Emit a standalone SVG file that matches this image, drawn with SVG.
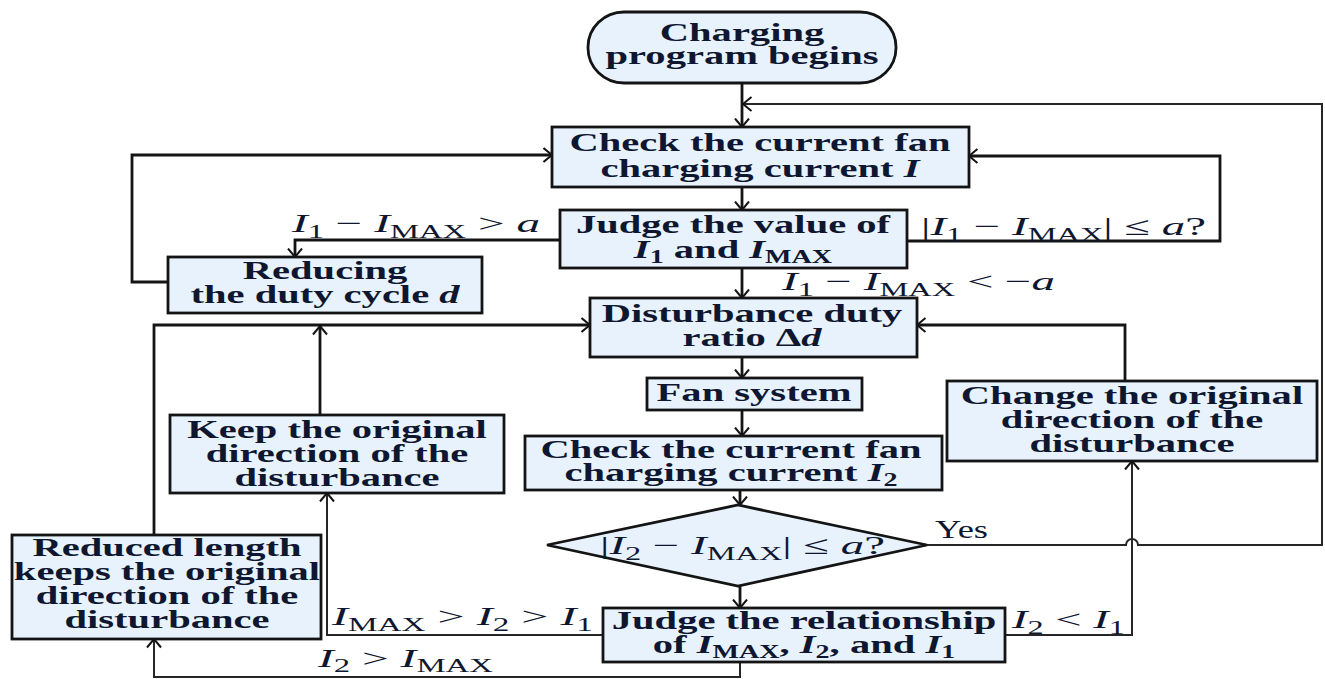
<svg xmlns="http://www.w3.org/2000/svg" width="1325" height="679" viewBox="0 0 1325 679">
<style>
.bg{fill:#ffffff}
.box{fill:#e7f2fc;stroke:#141414;stroke-width:2.8}
.ln{fill:none;stroke:#141414;stroke-width:2.8}
.thin{fill:none;stroke:#262626;stroke-width:2}
.t{font-family:"Liberation Serif","Times New Roman",serif;font-size:26px;font-weight:bold;fill:#0f1730;text-anchor:middle}
.m{font-family:"Liberation Serif","Times New Roman",serif;font-size:26px;font-weight:normal;fill:#0f1730}
.i{font-style:italic}
.s{font-size:18px}
</style>
<defs>
<marker id="ah" viewBox="0 0 10 16" refX="9.5" refY="8" markerWidth="10" markerHeight="16" markerUnits="userSpaceOnUse" orient="auto">
<path d="M1,1 L9.5,8 L1,15" fill="none" stroke="#141414" stroke-width="2"/>
</marker>
</defs>
<rect class="bg" x="0" y="0" width="1325" height="679"/>

<g id="connectors">
<path class="ln" d="M742,83 V127" marker-end="url(#ah)"/>
<path class="thin" d="M927,545 H1126 A6,6 0 0 1 1138,545 H1322 V104 H743" marker-end="url(#ah)"/>
<path class="ln" d="M742,187 V210" marker-end="url(#ah)"/>
<path class="ln" d="M560,240 H295 V257" marker-end="url(#ah)"/>
<path class="ln" d="M168,282 H132 V155 H552" marker-end="url(#ah)"/>
<path class="ln" d="M907,241 H1220 V156 H969" marker-end="url(#ah)"/>
<path class="ln" d="M742,268 V298" marker-end="url(#ah)"/>
<path class="ln" d="M742,357 V378" marker-end="url(#ah)"/>
<path class="ln" d="M742,410 V436" marker-end="url(#ah)"/>
<path class="ln" d="M740,490 V505" marker-end="url(#ah)"/>
<path class="ln" d="M740,586 V608" marker-end="url(#ah)"/>
<path class="thin" d="M603,635 H327 V493" marker-end="url(#ah)"/>
<path class="thin" d="M1005,635 H1132 V461" marker-end="url(#ah)"/>
<path class="thin" d="M740,662 V677 H154 V639" marker-end="url(#ah)"/>
<path class="ln" d="M154,535 V325 H590" marker-end="url(#ah)"/>
<path class="ln" d="M320,415 V326" marker-end="url(#ah)"/>
<path class="ln" d="M1125,381 V325 H917" marker-end="url(#ah)"/>
</g>

<g id="labels">
<text class="m" x="292" y="232" textLength="248" lengthAdjust="spacingAndGlyphs"><tspan class="i">I</tspan><tspan class="s" dy="6">1</tspan><tspan dy="-6"> − </tspan><tspan class="i">I</tspan><tspan class="s" dy="6">MAX</tspan><tspan dy="-6"> &gt; </tspan><tspan class="i">a</tspan></text>
<text class="m" x="921" y="235" textLength="285" lengthAdjust="spacingAndGlyphs">|<tspan class="i">I</tspan><tspan class="s" dy="6">1</tspan><tspan dy="-6"> − </tspan><tspan class="i">I</tspan><tspan class="s" dy="6">MAX</tspan><tspan dy="-6">| ≤ </tspan><tspan class="i">a</tspan>?</text>
<text class="m" x="782" y="290" textLength="273" lengthAdjust="spacingAndGlyphs"><tspan class="i">I</tspan><tspan class="s" dy="6">1</tspan><tspan dy="-6"> − </tspan><tspan class="i">I</tspan><tspan class="s" dy="6">MAX</tspan><tspan dy="-6"> &lt; −</tspan><tspan class="i">a</tspan></text>
<text class="m" x="935" y="538" textLength="53" lengthAdjust="spacingAndGlyphs">Yes</text>
<text class="m" x="332" y="625" textLength="261" lengthAdjust="spacingAndGlyphs"><tspan class="i">I</tspan><tspan class="s" dy="6">MAX</tspan><tspan dy="-6"> &gt; </tspan><tspan class="i">I</tspan><tspan class="s" dy="6">2</tspan><tspan dy="-6"> &gt; </tspan><tspan class="i">I</tspan><tspan class="s" dy="6">1</tspan></text>
<text class="m" x="1012" y="628" textLength="113" lengthAdjust="spacingAndGlyphs"><tspan class="i">I</tspan><tspan class="s" dy="6">2</tspan><tspan dy="-6"> &lt; </tspan><tspan class="i">I</tspan><tspan class="s" dy="6">1</tspan></text>
<text class="m" x="318" y="667" textLength="175" lengthAdjust="spacingAndGlyphs"><tspan class="i">I</tspan><tspan class="s" dy="5">2</tspan><tspan dy="-5"> &gt; </tspan><tspan class="i">I</tspan><tspan class="s" dy="5">MAX</tspan></text>
</g>

<g id="start">
<rect class="box" x="588" y="12" width="308" height="71" rx="36" ry="35"/>
<text class="t" transform="translate(742 0) scale(1.56 1)"><tspan x="0" y="41">Charging</tspan><tspan x="0" y="64">program begins</tspan></text>
</g>

<g id="check1">
<rect class="box" x="552" y="127" width="417" height="60"/>
<text class="t" transform="translate(760 0) scale(1.56 1)"><tspan x="0" y="151">Check the current fan</tspan><tspan x="0" y="177">charging current <tspan class="i">I</tspan></tspan></text>
</g>

<g id="judge1">
<rect class="box" x="560" y="210" width="347" height="58"/>
<text class="t" transform="translate(733 0) scale(1.56 1)"><tspan x="0" y="233">Judge the value of</tspan><tspan x="0" y="258"><tspan class="i">I</tspan><tspan class="s" dy="5">1</tspan><tspan dy="-5"> and </tspan><tspan class="i">I</tspan><tspan class="s" dy="5">MAX</tspan></tspan></text>
</g>

<g id="reduce">
<rect class="box" x="168" y="257" width="314" height="56"/>
<text class="t" transform="translate(325 0) scale(1.56 1)"><tspan x="0" y="279">Reducing</tspan><tspan x="0" y="303">the duty cycle <tspan class="i">d</tspan></tspan></text>
</g>

<g id="disturb">
<rect class="box" x="590" y="298" width="327" height="59"/>
<text class="t" transform="translate(752 0) scale(1.56 1)"><tspan x="0" y="322">Disturbance duty</tspan><tspan x="0" y="346">ratio Δ<tspan class="i">d</tspan></tspan></text>
</g>

<g id="fan">
<rect class="box" x="647" y="378" width="215" height="32"/>
<text class="t" transform="translate(754 0) scale(1.56 1)" x="0" y="401">Fan system</text>
</g>

<g id="check2">
<rect class="box" x="525" y="436" width="417" height="54"/>
<text class="t" transform="translate(731 0) scale(1.56 1)"><tspan x="0" y="458">Check the current fan</tspan><tspan x="0" y="481">charging current <tspan class="i">I</tspan><tspan class="s" dy="5">2</tspan></tspan></text>
</g>

<g id="decision">
<polygon class="box" points="547,545 738,505 927,545 738,586"/>
<text class="m" x="600" y="554" textLength="285" lengthAdjust="spacingAndGlyphs">|<tspan class="i">I</tspan><tspan class="s" dy="6">2</tspan><tspan dy="-6"> − </tspan><tspan class="i">I</tspan><tspan class="s" dy="6">MAX</tspan><tspan dy="-6">| ≤ </tspan><tspan class="i">a</tspan>?</text>
</g>

<g id="judge2">
<rect class="box" x="603" y="608" width="402" height="54"/>
<text class="t" transform="translate(804 0) scale(1.56 1)"><tspan x="0" y="629">Judge the relationship</tspan><tspan x="0" y="653">of <tspan class="i">I</tspan><tspan class="s" dy="5">MAX</tspan><tspan dy="-5">, </tspan><tspan class="i">I</tspan><tspan class="s" dy="5">2</tspan><tspan dy="-5">, and </tspan><tspan class="i">I</tspan><tspan class="s" dy="5">1</tspan></tspan></text>
</g>

<g id="keep">
<rect class="box" x="170" y="415" width="334" height="78"/>
<text class="t" transform="translate(337 0) scale(1.56 1)"><tspan x="0" y="438">Keep the original</tspan><tspan x="0" y="462">direction of the</tspan><tspan x="0" y="486">disturbance</tspan></text>
</g>

<g id="change">
<rect class="box" x="947" y="381" width="370" height="80"/>
<text class="t" transform="translate(1132 0) scale(1.56 1)"><tspan x="0" y="404">Change the original</tspan><tspan x="0" y="428">direction of the</tspan><tspan x="0" y="452">disturbance</tspan></text>
</g>

<g id="reduced">
<rect class="box" x="12" y="535" width="309" height="104"/>
<text class="t" transform="translate(167 0) scale(1.56 1)"><tspan x="0" y="556">Reduced length</tspan><tspan x="0" y="580">keeps the original</tspan><tspan x="0" y="604">direction of the</tspan><tspan x="0" y="628">disturbance</tspan></text>
</g>
</svg>
